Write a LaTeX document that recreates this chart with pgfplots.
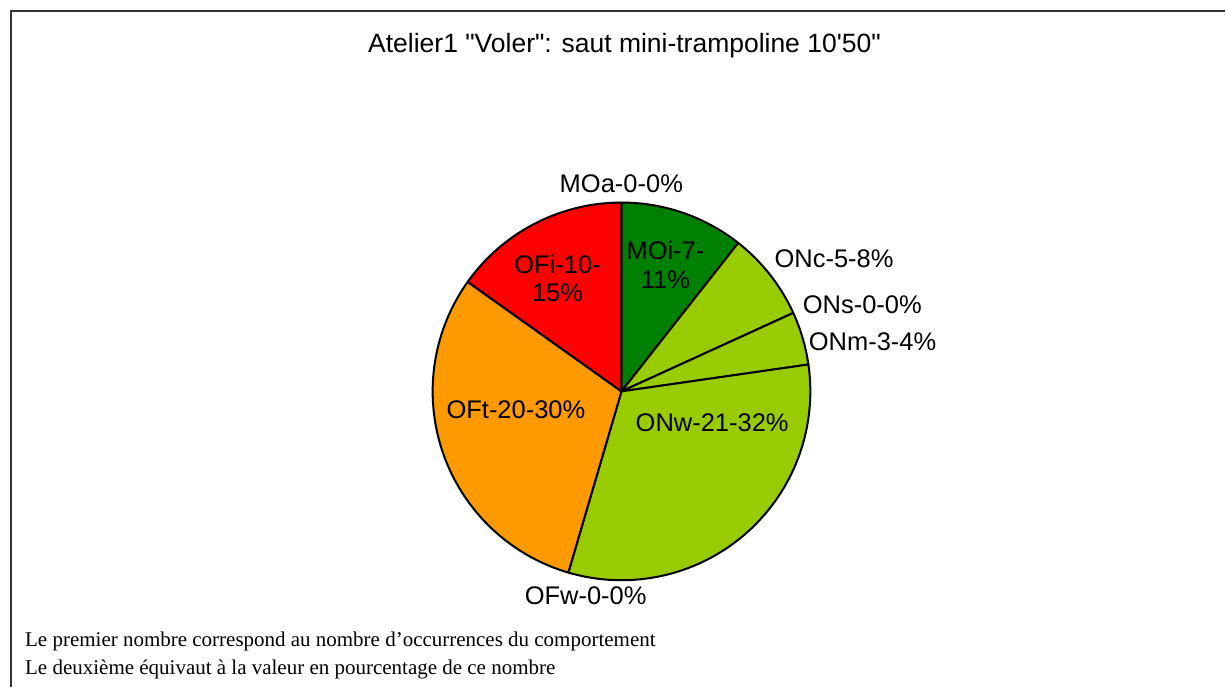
\documentclass[border=0pt]{standalone}
\usepackage{pgfplots}
\pgfplotsset{compat=1.18}
\usepackage{fontspec}
\setmainfont{Liberation Sans}[Ligatures=TeXOff]
\newfontfamily\timesfont{Liberation Serif}
\definecolor{cMOi}{RGB}{0,128,0}
\definecolor{cON}{RGB}{153,204,0}
\definecolor{cOFt}{RGB}{255,153,0}
\definecolor{cOFi}{RGB}{255,0,0}
% counts (occurrences), total 66
% MOi 7, ONc 5, ONs 0, ONm 3, ONw 21, OFw 0, OFt 20, OFi 10, MOa 0
\def\cx{622}\def\cy{296.3}\def\rr{189}
\newcommand{\slice}[3]{% start count, count, colour
  \pgfmathsetmacro{\sa}{#1/66*360}%
  \pgfmathsetmacro{\sb}{(#1+#2)/66*360}%
  \addplot[draw=black, line width=2pt, line join=round, fill=#3, domain=\sa:\sb, samples=80, variable=\t]
    ({\cx+\rr*sin(t)},{\cy+\rr*cos(t)}) -- (axis cs:\cx,\cy) -- cycle;
}
\newcommand{\lab}{\fontsize{25.5}{30}\selectfont}
\begin{document}
\begin{tikzpicture}
\begin{axis}[
  scale only axis, width=1226pt, height=688pt,
  xmin=0, xmax=1226, ymin=0, ymax=688,
  hide axis, clip=false]
\path (axis cs:0,0) rectangle (axis cs:1226,688);
\draw[line width=2pt, black!80] (axis cs:1226,677) -- (axis cs:11,677) -- (axis cs:11,0);
\slice{0}{7}{cMOi}
\slice{7}{5}{cON}
\slice{12}{3}{cON}
\slice{15}{21}{cON}
\slice{36}{20}{cOFt}
\slice{56}{10}{cOFi}
\node[anchor=base, inner sep=0, font=\fontsize{26.5}{30}\selectfont] at (axis cs:625,635.3) {Atelier1 "Voler": saut mini-trampoline 10'50"};
\node[anchor=base west, inner sep=0, font=\lab] at (axis cs:560,495) {MOa-0-0\%};
\node[anchor=base, inner sep=0, font=\lab] at (axis cs:666,428) {MOi-7-};
\node[anchor=base, inner sep=0, font=\lab] at (axis cs:666,399.7) {11\%};
\node[anchor=base west, inner sep=0, font=\lab] at (axis cs:775,420.7) {ONc-5-8\%};
\node[anchor=base west, inner sep=0, font=\lab] at (axis cs:803.3,374.7) {ONs-0-0\%};
\node[anchor=base west, inner sep=0, font=\lab] at (axis cs:809.3,337.3) {ONm-3-4\%};
\node[anchor=base west, inner sep=0, font=\lab] at (axis cs:636,256.3) {ONw-21-32\%};
\node[anchor=base west, inner sep=0, font=\lab] at (axis cs:525,83) {OFw-0-0\%};
\node[anchor=base west, inner sep=0, font=\lab] at (axis cs:446.7,269) {OFt-20-30\%};
\node[anchor=base, inner sep=0, font=\lab] at (axis cs:558,414.7) {OFi-10-};
\node[anchor=base, inner sep=0, font=\lab] at (axis cs:558,386.3) {15\%};
\node[anchor=base west, inner sep=0, font=\timesfont\fontsize{21}{24}\selectfont] at (axis cs:25,41.3) {Le premier nombre correspond au nombre d’occurrences du comportement};
\node[anchor=base west, inner sep=0, font=\timesfont\fontsize{21}{24}\selectfont] at (axis cs:25,13) {Le deuxième équivaut à la valeur en pourcentage de ce nombre};
\end{axis}
\end{tikzpicture}
\end{document}
